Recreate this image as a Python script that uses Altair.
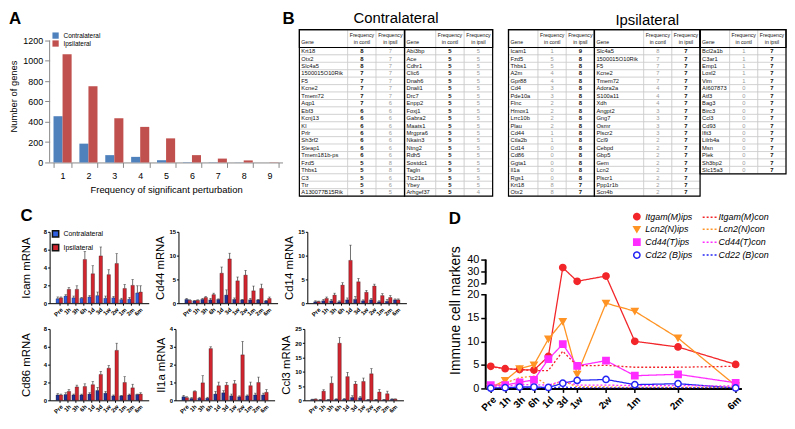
import altair as alt
import pandas as pd

FONT = "Liberation Sans"

# ---------------- Panel A data ----------------
a_freq = ["1", "2", "3", "4", "5", "6", "7", "8", "9"]
a_contra = [455, 185, 72, 55, 22, 3, 2, 1, 0]
a_ipsi = [1065, 750, 435, 350, 237, 72, 38, 20, 2]

# ---------------- Panel B data ----------------
con1_genes = ["Krt18", "Otx2", "Slc4a5", "1500015O10Rik", "F5", "Kcne2", "Tmem72", "Aqp1", "Ebf3", "Kcnj13",
              "Kl", "Prlr", "Sh3rf2", "Steap1", "Tmem181b-ps", "Fzd5", "Thbs1", "C3", "Ttr", "A130077B15Rik"]
con1_contl = [8, 8, 8, 7, 7, 7, 7, 7, 6, 6, 6, 6, 6, 6, 6, 5, 5, 5, 5, 5]
con1_ipsil = [7, 7, 7, 7, 7, 7, 7, 6, 6, 6, 6, 6, 6, 6, 6, 8, 8, 6, 6, 5]
con2_genes = ["Abi3bp", "Ace", "Cdhr1", "Clic6", "Dnah6", "Dnali1", "Drc7", "Enpp2", "Foxj1", "Gabra2",
              "Maats1", "Mrgpra6", "Nkain3", "Ntng2", "Rdh5", "Sostdc1", "Tagln", "Ttc21a", "Ybey", "Arhgef37"]
con2_contl = [5] * 20
con2_ipsil = [5] * 19 + [4]

ips1_genes = ["Icam1", "Fzd5", "Thbs1", "A2m", "Gpr88", "Cd4", "Pde10a", "Flnc", "Hmox1", "Lrrc10b",
              "Plau", "Cd44", "Ctla2b", "Cd14", "Cd86", "Ggta1", "Il1a", "Rgs1", "Krt18", "Otx2"]
ips1_contl = [1, 5, 5, 4, 4, 3, 3, 2, 2, 2, 2, 1, 1, 0, 0, 0, 0, 0, 8, 8]
ips1_ipsil = [9, 8, 8, 8, 8, 8, 8, 8, 8, 8, 8, 8, 8, 8, 8, 8, 8, 8, 7, 7]
ips2_genes = ["Slc4a5", "1500015O10Rik", "F5", "Kcne2", "Tmem72", "Adora2a", "S100a11", "Xdh", "Angpt2", "Gng7",
              "Osmr", "Plscr2", "Ccl9", "Cebpd", "Gbp5", "Gem", "Lcn2", "Plscr1", "Ppp1r1b", "Scn4b"]
ips2_contl = [8, 7, 7, 7, 7, 4, 4, 4, 3, 3, 3, 3, 2, 2, 2, 2, 2, 2, 2, 2]
ips2_ipsil = [7] * 20
ips3_genes = ["Bcl2a1b", "C3ar1", "Emp1", "Loxl2", "Vim", "AI607873", "Atf3", "Bag3", "Birc3", "Ccl3",
              "Cd93", "Ifit3", "Lilrb4a", "Msn", "Plek", "Sh3bp2", "Slc15a3"]
ips3_contl = [1, 1, 1, 1, 1, 0, 0, 0, 0, 0, 0, 0, 0, 0, 0, 0, 0]
ips3_ipsil = [7] * 17

# ---------------- Panel C data ----------------
times = ["Pre", "1h", "3h", "6h", "1d", "3d", "1w", "2w", "1m", "2m", "6m"]
icam_con = [0.5, 0.8, 0.6, 0.55, 0.7, 0.85, 0.55, 0.6, 0.4, 0.45, 1.15]
icam_con_e = [0.2, 0.15, 0.2, 0.1, 0.15, 0.4, 0.25, 0.15, 0.15, 0.2, 0.8]
icam_ips = [0.6, 1.55, 1.55, 4.9, 3.3, 5.3, 3.2, 4.45, 1.65, 2.0, 1.25]
icam_ips_e = [0.1, 0.2, 0.4, 0.9, 0.9, 1.0, 0.55, 1.1, 0.45, 0.65, 0.7]

cd44_con = [0.8, 0.5, 0.8, 0.7, 0.8, 1.7, 0.8, 0.7, 0.7, 0.7, 0.5]
cd44_con_e = [0.2, 0.1, 0.2, 0.3, 0.1, 1.1, 0.3, 0.1, 0.3, 0.1, 0.1]
cd44_ips = [0.6, 0.6, 1.2, 1.8, 6.3, 9.3, 4.7, 5.9, 2.6, 3.1, 1.0]
cd44_ips_e = [0.1, 0.1, 0.2, 0.3, 1.3, 1.2, 0.8, 1.0, 1.0, 0.9, 0.3]

cd14_con = [0.3, 0.5, 0.5, 0.3, 0.7, 0.8, 0.5, 0.7, 0.3, 0.4, 0.7]
cd14_con_e = [0.2, 0.3, 0.3, 0.2, 0.4, 0.6, 0.2, 0.3, 0.2, 0.4, 0.2]
cd14_ips = [0.35, 1.0, 1.7, 3.8, 9.0, 4.5, 2.3, 3.6, 1.6, 1.2, 0.7]
cd14_ips_e = [0.1, 0.3, 0.4, 0.5, 3.2, 0.7, 0.4, 0.4, 0.4, 0.4, 0.2]

cd86_con = [0.6, 0.65, 0.6, 0.6, 0.7, 1.1, 0.8, 0.5, 0.5, 0.6, 0.65]
cd86_con_e = [0.15, 0.2, 0.1, 0.1, 0.15, 0.35, 0.2, 0.1, 0.05, 0.1, 0.05]
cd86_ips = [0.6, 1.0, 1.5, 1.55, 1.75, 2.9, 3.6, 5.6, 2.0, 1.4, 0.7]
cd86_ips_e = [0.1, 0.2, 0.2, 0.3, 0.35, 0.35, 0.3, 0.8, 0.65, 0.4, 0.15]

il1a_con = [0.2, 0.1, 0.12, 0.12, 0.35, 0.42, 0.25, 0.2, 0.25, 0.3, 0.3]
il1a_con_e = [0.08, 0.05, 0.05, 0.05, 0.15, 0.12, 0.1, 0.05, 0.05, 0.1, 0.1]
il1a_ips = [0.15, 0.5, 0.98, 2.9, 0.82, 0.85, 0.93, 2.55, 0.82, 1.0, 0.45]
il1a_ips_e = [0.05, 0.03, 0.4, 0.1, 0.2, 0.15, 0.18, 0.75, 0.2, 0.3, 0.15]

ccl3_con = [0.3, 0.2, 0.2, 0.4, 0.4, 1.0, 0.9, 0.2, 0.2, 0.2, 0.4]
ccl3_con_e = [0.1, 0.1, 0.1, 0.1, 0.2, 0.6, 0.4, 0.1, 0.1, 0.1, 0.1]
ccl3_ips = [0.4, 3.2, 6.0, 20.0, 8.3, 5.7, 6.6, 9.3, 2.9, 2.3, 0.4]
ccl3_ips_e = [0.1, 0.5, 2.2, 2.0, 1.5, 0.9, 1.2, 1.8, 0.9, 0.9, 0.1]

# ---------------- Panel D data ----------------
d_pos = [0, 1, 2, 3, 4, 5, 6, 8, 10, 13, 17]
itgam_ips = [4.7, 4.2, 4.0, 3.9, 6.8, 33.5, 22.3, 26.6, 10.0, 8.8, 5.1]
lcn2_ips = [0.2, 1.7, 4.2, 5.0, 10.5, 14.2, 3.0, 18.1, 16.4, 10.7, 0.6]
cd44t_ips = [0.7, 0.7, 1.3, 1.8, 6.2, 9.4, 4.8, 5.9, 2.7, 3.0, 1.2]
cd22_ips = [0.05, 0.15, 0.3, 0.3, 0.2, 1.1, 1.7, 1.9, 0.8, 1.0, 0.1]
itgam_con = [4.6, 4.2, 4.0, 3.8, 3.8, 7.9, 4.8, 4.9, 4.5, 4.5, 4.7]
lcn2_con = [0.3, 1.1, 2.3, 2.6, 0.5, 1.6, 0.3, 0.3, 0.2, 0.2, 0.2]
cd44t_con = [0.5, 0.5, 0.8, 0.8, 0.7, 1.6, 0.7, 0.7, 0.6, 0.6, 0.5]
cd22_con = [0.1, 0.1, 0.1, 0.1, 0.1, 0.3, 0.1, 0.1, 0.1, 0.1, 0.1]

CH = ["color", "fill", "stroke", "shape", "strokeDash", "opacity", "size"]


def indep(c):
    return c.resolve_scale(**{k: "independent" for k in CH}).resolve_legend(**{k: "independent" for k in CH})


# ================= Panel A =================
dfA = pd.DataFrame({"freq": a_freq * 2,
                    "gA": ["Contralateral"] * 9 + ["Ipsilateral"] * 9,
                    "n": a_contra + a_ipsi})
A_TOP = 1307
ysA = alt.Scale(domain=[0, A_TOP], nice=False)
yaxA = alt.Axis(values=[0, 200, 400, 600, 800, 1000, 1200], format="d", grid=False, labelFontSize=9,
                titleFontSize=9.5, titleFontWeight="normal", domain=False, tickColor="#888")
barsA = alt.Chart(dfA).mark_bar().encode(
    x=alt.X("freq:N", title="Frequency of significant perturbation",
            scale=alt.Scale(paddingInner=0.3, paddingOuter=0.15),
            axis=alt.Axis(labelAngle=0, labelFontSize=9, titleFontSize=9.5, titleFontWeight="normal",
                          tickBand="extent", domainColor="#888", tickColor="#888", labelPadding=4)),
    xOffset=alt.XOffset("gA:N"),
    y=alt.Y("n:Q", title="Number of genes", scale=ysA, axis=yaxA),
    color=alt.Color("gA:N", scale=alt.Scale(domain=["Contralateral", "Ipsilateral"], range=["#4F81BD", "#C0504D"]),
                    legend=alt.Legend(title=None, orient="none", legendX=2, legendY=2, symbolType="square",
                                      labelFontSize=6.5, symbolSize=40, rowPadding=0, padding=0))
)
axA = alt.Chart(pd.DataFrame({"n": [0], "n2": [1200]})).mark_rule(color="#888", strokeWidth=1).encode(
    x=alt.value(0), y=alt.Y("n:Q", title="Number of genes", scale=ysA, axis=yaxA), y2="n2:Q")
chartA = alt.layer(axA, barsA, title=alt.TitleParams("A", anchor="start", fontSize=17, fontWeight="bold", offset=2)
                   ).properties(width=235, height=134)

# ================= Panel B =================
HDR = 2.4


def build_table(subs, gene_units, own, title, width, height, letter=None, toff=1):
    cells, heads, boxes, txt = [], [], [], []
    x0 = 0.0
    for (genes, contl, ipsil), gu in zip(subs, gene_units):
        e = [x0, x0 + gu, x0 + gu + 1, x0 + gu + 2]
        n = len(genes)
        for c in range(3):
            heads.append({"x": e[c], "x2": e[c + 1], "y": -HDR, "y2": 0})
        boxes.append({"x": e[0], "x2": e[3], "y": -HDR, "y2": n})
        boxes.append({"x": e[0], "x2": e[3], "y": -HDR, "y2": 0})
        txt.append({"x": e[0], "y": -0.7, "t": "Gene", "k": "hl"})
        for c, lab in ((1, "in contl"), (2, "in ipsil")):
            mid = (e[c] + e[c + 1]) / 2
            txt.append({"x": mid, "y": -1.7, "t": "Frequency", "k": "hc"})
            txt.append({"x": mid, "y": -0.7, "t": lab, "k": "hc"})
        for r in range(n):
            for c in range(3):
                cells.append({"x": e[c], "x2": e[c + 1], "y": r, "y2": r + 1})
            txt.append({"x": e[0], "y": r + 0.5, "t": genes[r], "k": "gene"})
            txt.append({"x": (e[1] + e[2]) / 2, "y": r + 0.5, "t": str(contl[r]),
                        "k": "own" if own == "contl" else "other"})
            txt.append({"x": (e[2] + e[3]) / 2, "y": r + 0.5, "t": str(ipsil[r]),
                        "k": "own" if own == "ipsil" else "other"})
        x0 = e[3]
    xs = alt.Scale(domain=[0, x0], nice=False, zero=False)
    ys = alt.Scale(domain=[-HDR, 20], nice=False, zero=False, reverse=True)
    X = alt.X("x:Q", scale=xs, axis=None)
    Y = alt.Y("y:Q", scale=ys, axis=None)
    rect_cells = alt.Chart(pd.DataFrame(cells + heads)).mark_rect(fill="white", stroke="#c4c4c4", strokeWidth=0.6).encode(
        x=X, x2="x2:Q", y=Y, y2="y2:Q")
    rect_boxes = alt.Chart(pd.DataFrame(boxes)).mark_rect(fillOpacity=0, stroke="black", strokeWidth=1.2).encode(
        x=X, x2="x2:Q", y=Y, y2="y2:Q")
    tdf = pd.DataFrame(txt)
    t_gene = alt.Chart(tdf).transform_filter("datum.k == 'gene'").mark_text(
        align="left", dx=2, fontSize=5.8, color="#111", font=FONT).encode(x=X, y=Y, text="t:N")
    t_hl = alt.Chart(tdf).transform_filter("datum.k == 'hl'").mark_text(
        align="left", dx=2, fontSize=5.2, color="#111", font=FONT).encode(x=X, y=Y, text="t:N")
    t_hc = alt.Chart(tdf).transform_filter("datum.k == 'hc'").mark_text(
        align="center", fontSize=5.2, color="#111", font=FONT).encode(x=X, y=Y, text="t:N")
    t_own = alt.Chart(tdf).transform_filter("datum.k == 'own'").mark_text(
        align="center", fontSize=6, fontWeight="bold", color="#111", font=FONT).encode(x=X, y=Y, text="t:N")
    t_oth = alt.Chart(tdf).transform_filter("datum.k == 'other'").mark_text(
        align="center", fontSize=5.8, color="#9a9a9a", font=FONT).encode(x=X, y=Y, text="t:N")
    layers = [rect_cells, rect_boxes, t_gene, t_hl, t_hc, t_own, t_oth]
    if letter:
        layers.append(alt.Chart(pd.DataFrame({"t": [letter]})).mark_text(
            align="left", baseline="bottom", fontSize=17, fontWeight="bold", color="black").encode(
            x=alt.value(-17), y=alt.value(-2), text="t:N"))
    return alt.layer(*layers, title=alt.TitleParams(title, fontSize=15, fontWeight="normal", offset=toff)).properties(
        width=width, height=height)


contra_tab = build_table([(con1_genes, con1_contl, con1_ipsil), (con2_genes, con2_contl, con2_ipsil)],
                         [1.7, 1.1], "contl", "Contralateral", 195, 168, letter="B", toff=-16)
ipsi_tab = build_table([(ips1_genes, ips1_contl, ips1_ipsil), (ips2_genes, ips2_contl, ips2_ipsil),
                        (ips3_genes, ips3_contl, ips3_ipsil)],
                       [1.05, 1.75, 1.05], "ipsil", "Ipsilateral", 280, 168)

# ================= Panel C =================
RED = "#d0242f"
C_OFF = 0.2          # half the distance between the two bars of a time point (in time-slot units)
c_slots = list(range(len(times)))
c_lab_expr = "[" + ",".join(f"'{t}'" for t in times) + "][datum.value]"


def mrna(idx, gene, con, con_e, ips, ips_e, ymax, step, con_color, legend, tpad):
    g = f"grp{idx}"
    df = pd.DataFrame({"xpos": [s - C_OFF for s in c_slots] + [s + C_OFF for s in c_slots],
                       g: ["Contralateral"] * 11 + ["Ipsilateral"] * 11,
                       "val": con + ips,
                       "top": [v + e for v, e in zip(con + ips, con_e + ips_e)]})
    ttl = f"{gene} mRNA"
    yax = alt.Axis(values=list(range(0, ymax + 1, step)), grid=False, labelFontSize=6, labelFontWeight="bold",
                   titleFontSize=11.5, titleFontWeight="normal", titlePadding=tpad, domainColor="black",
                   tickColor="black", tickSize=2, labelPadding=1)
    ysc = alt.Scale(domain=[0, ymax], nice=False)
    X = alt.X("xpos:Q", title=None, scale=alt.Scale(domain=[-0.6, 10.6], nice=False, zero=False),
              axis=alt.Axis(values=c_slots, labelExpr=c_lab_expr, labelAngle=-45, labelFontSize=6,
                            labelFontWeight="bold", tickSize=2, labelPadding=1, grid=False, domainColor="black",
                            tickColor="black", labelOverlap=False, labelBound=False))
    leg = None
    if legend:
        leg = alt.Legend(title=None, orient="none", legendX=2, legendY=-2, symbolType="square", symbolSize=40,
                         labelFontSize=7, rowPadding=0, padding=0)
    bars = alt.Chart(df).mark_bar(orient="vertical", size=3.5, stroke="#111", strokeWidth=0.3).encode(
        x=X,
        y=alt.Y("val:Q", scale=ysc, axis=yax, title=ttl),
        color=alt.Color(f"{g}:N", scale=alt.Scale(domain=["Contralateral", "Ipsilateral"], range=[con_color, RED]),
                        legend=leg))
    errs = alt.Chart(df).mark_rule(color="#333", strokeWidth=0.7).encode(
        x=X, y=alt.Y("val:Q", scale=ysc, axis=yax, title=ttl), y2="top:Q")
    caps = alt.Chart(df).mark_tick(orient="horizontal", color="#333", thickness=0.7, size=2.5).encode(
        x=X, y=alt.Y("top:Q", scale=ysc, axis=yax, title=ttl))
    return alt.layer(bars, errs, caps).properties(width=100, height=72)


NAVY = "#1f3196"
c_icam = mrna(0, "Icam", icam_con, icam_con_e, icam_ips, icam_ips_e, 8, 2, "#2f5fe0", True, 12)
c_cd44 = mrna(1, "Cd44", cd44_con, cd44_con_e, cd44_ips, cd44_ips_e, 15, 5, NAVY, False, 3)
c_cd14 = mrna(2, "Cd14", cd14_con, cd14_con_e, cd14_ips, cd14_ips_e, 15, 5, NAVY, False, 3)
c_cd86 = mrna(3, "Cd86", cd86_con, cd86_con_e, cd86_ips, cd86_ips_e, 8, 2, NAVY, False, 12)
c_il1a = mrna(4, "Il1a", il1a_con, il1a_con_e, il1a_ips, il1a_ips_e, 4, 1, NAVY, False, 3)
c_ccl3 = mrna(5, "Ccl3", ccl3_con, ccl3_con_e, ccl3_ips, ccl3_ips_e, 25, 5, NAVY, False, 3)

panelC = indep(alt.vconcat(
    indep(alt.hconcat(c_icam, c_cd44, c_cd14, spacing=6)),
    indep(alt.hconcat(c_cd86, c_il1a, c_ccl3, spacing=6)),
    spacing=8,
    title=alt.TitleParams("C", anchor="start", fontSize=17, fontWeight="bold", offset=4)))

# ================= Panel D =================
ser_ips = ["Itgam(M)ips", "Lcn2(N)ips", "Cd44(T)ips", "Cd22 (B)ips"]
ser_con = ["Itgam(M)con", "Lcn2(N)con", "Cd44(T)con", "Cd22 (B)con"]
base_cols = ["#f2262a", "#ff9424", "#ff2cff", "#2424f5"]
ips_vals = [itgam_ips, lcn2_ips, cd44t_ips, cd22_ips]
con_vals = [itgam_con, lcn2_con, cd44t_con, cd22_con]

rows = []
for s, v in zip(ser_ips, ips_vals):
    for t, p, y in zip(times, d_pos, v):
        rows.append({"series": s, "kind": "ips", "time": t, "pos": p, "val": y})
for s, v in zip(ser_con, con_vals):
    for t, p, y in zip(times, d_pos, v):
        rows.append({"series": s, "kind": "con", "time": t, "pos": p, "val": y})
dfD = pd.DataFrame(rows)

# legend fills column by column: first column ips, second column con
order = ser_ips + ser_con
col_order = base_cols + base_cols
dash_order = [[1, 0]] * 4 + [[2, 2]] * 4
shape_order = ["circle", "triangle-down", "square", "circle"] + ["M-2.4,0L2.4,0"] * 4
fill_order = [base_cols[0], base_cols[1], base_cols[2], "white"] + ["transparent"] * 4

BRK = 20.6
D_H = 158
ysD = alt.Scale(domain=[0, 20, BRK, 40, 62.6], range=[D_H, D_H - 95, D_H - 106, D_H - 130, 0], nice=False, zero=False)
xsD = alt.Scale(domain=[-0.35, 17.4], nice=False, zero=False)
lab_expr = "[" + ",".join(f"'{t}'" for t in times) + "][indexof([" + ",".join(str(p) for p in d_pos) + "], datum.value)]"
xaxD = alt.Axis(values=d_pos, labelExpr=lab_expr, labelAngle=-45, labelFontSize=10, labelFontWeight="bold",
                domainColor="black", domainWidth=2, tickColor="black", tickWidth=1.5, tickSize=4, grid=False,
                labelPadding=2, labelOverlap=False, labelBound=False)
yaxD = alt.Axis(values=[0, 5, 10, 15, 20, BRK, 30, 40],
                labelExpr=f"datum.value == {BRK} ? '20' : datum.label", grid=False, domain=False,
                labelFontSize=11, tickColor="black", tickWidth=1.5, tickSize=5, titleFontSize=14,
                titleFontWeight="normal", titlePadding=4, labelOverlap=False)
YT = "Immune cell markers"
legD = alt.Legend(title=None, orient="none", legendX=148, legendY=-20, columns=2, labelFontSize=9,
                  labelFontStyle="italic", symbolSize=40, symbolStrokeWidth=1.5, rowPadding=0, columnPadding=6,
                  labelLimit=0, padding=0)

lines = alt.Chart(dfD).mark_line(strokeWidth=1.3, clip=True).encode(
    x=alt.X("pos:Q", scale=xsD, axis=xaxD, title=None),
    y=alt.Y("val:Q", scale=ysD, axis=yaxD, title=YT),
    color=alt.Color("series:N", scale=alt.Scale(domain=order, range=col_order), legend=legD),
    strokeDash=alt.StrokeDash("series:N", scale=alt.Scale(domain=order, range=dash_order), legend=legD),
)
points = alt.Chart(dfD).transform_filter("datum.kind == 'ips'").mark_point(
    strokeWidth=1.5, size=40, opacity=1, fillOpacity=1).encode(
    x=alt.X("pos:Q", scale=xsD, axis=xaxD, title=None),
    y=alt.Y("val:Q", scale=ysD, axis=yaxD, title=YT),
    shape=alt.Shape("series:N", scale=alt.Scale(domain=order, range=shape_order), legend=legD),
    fill=alt.Fill("series:N", scale=alt.Scale(domain=order, range=fill_order), legend=legD),
    stroke=alt.Stroke("series:N", scale=alt.Scale(domain=order, range=col_order), legend=legD),
)
axis_pieces = pd.DataFrame({"val": [0, BRK], "val2": [20, 40]})
yline = alt.Chart(axis_pieces).mark_rule(color="black", strokeWidth=2).encode(
    x=alt.value(0),
    y=alt.Y("val:Q", scale=ysD, axis=yaxD, title=YT), y2="val2:Q")

panelD = alt.layer(yline, lines, points,
                   title=alt.TitleParams("D", anchor="start", fontSize=17, fontWeight="bold", offset=-16)
                   ).properties(width=258, height=D_H)

# ================= Assemble =================
tables = indep(alt.hconcat(contra_tab, ipsi_tab, spacing=14))
top = indep(alt.concat(chartA, tables, columns=2, align="none", spacing=0))
bottom = indep(alt.concat(panelC, panelD, columns=2, align="none", spacing=42))
chart = indep(alt.vconcat(top, bottom, spacing=10)).properties(padding=0).configure(font=FONT).configure_view(stroke=None)

chart.save("out.html", embed_options={"renderer": "svg", "actions": False})
